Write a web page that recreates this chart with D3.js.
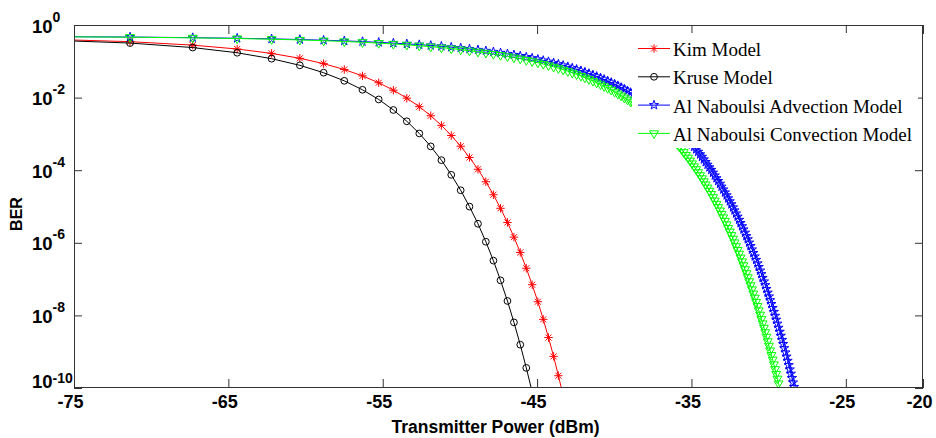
<!DOCTYPE html>
<html>
<head>
<meta charset="utf-8">
<script src="https://cdn.jsdelivr.net/npm/d3@7/dist/d3.min.js"></script>
<style>
    body { margin: 0; background: #fff; }
    .ber-chart svg { display: block; }
    .axis-text { font-family: 'Liberation Sans', Arial, sans-serif; font-weight: bold; fill: #000; }
    .legend-text { font-family: 'Liberation Serif', 'Times New Roman', serif; font-size: 19px; fill: #000; }
</style>
</head>
<body>
<div class="ber-chart"></div>
<script>
// transmitter power grid (dBm), shared by all four curves
const powerDbm = [
    -78.31, -71.37, -67.31, -64.43, -62.20, -60.37, -58.83, -57.49, -56.31, -55.26,
    -54.31, -53.44, -52.63, -51.89, -51.20, -50.56, -49.95, -49.38, -48.83, -48.32,
    -47.83, -47.37, -46.92, -46.50, -46.09, -45.70, -45.32, -44.95, -44.60, -44.26,
    -43.93, -43.62, -43.31, -43.01, -42.72, -42.44, -42.16, -41.90, -41.64, -41.38,
    -41.14, -40.89, -40.66, -40.43, -40.20, -39.98, -39.77, -39.56, -39.35, -39.15,
    -38.95, -38.76, -38.57, -38.38, -38.19, -38.01, -37.84, -37.66, -37.49, -37.32,
    -37.16, -37.00, -36.84, -36.68, -36.52, -36.37, -36.22, -36.07, -35.92, -35.78,
    -35.64, -35.50, -35.36, -35.22, -35.09, -34.96, -34.83, -34.70, -34.57, -34.44,
    -34.32, -34.20, -34.08, -33.96, -33.84, -33.72, -33.60, -33.49, -33.38, -33.27,
    -33.15, -33.05, -32.94, -32.83, -32.72, -32.62, -32.52, -32.41, -32.31, -32.21,
    -32.11, -32.01, -31.91, -31.82, -31.72, -31.63, -31.53, -31.44, -31.35, -31.26,
    -31.17, -31.08, -30.99, -30.90, -30.81, -30.72, -30.64, -30.55, -30.47, -30.39,
    -30.30, -30.22, -30.14, -30.06, -29.98, -29.90, -29.82, -29.74, -29.66, -29.58,
    -29.51, -29.43, -29.36, -29.28, -29.21, -29.13, -29.06, -28.99, -28.91, -28.84,
    -28.77, -28.70, -28.63, -28.56, -28.49, -28.42, -28.35, -28.29, -28.22
];

const kimBer = [
    0.423, 0.348, 0.279, 0.218, 0.165, 0.121, 0.0862, 0.0594, 0.0396, 0.0256,
    0.0160, 9.63e-3, 5.62e-3, 3.16e-3, 1.72e-3, 9.04e-4, 4.58e-4, 2.24e-4, 1.06e-4, 4.81e-5,
    2.11e-5, 8.93e-6, 3.64e-6, 1.43e-6, 5.43e-7, 1.99e-7, 7.0e-8, 2.38e-8, 7.78e-9, 2.45e-9,
    7.45e-10, 2.18e-10, 6.17e-11
];

const kruseBer = [
    0.406, 0.318, 0.239, 0.172, 0.118, 0.0775, 0.0485, 0.0290, 0.0164, 8.89e-3,
    4.56e-3, 2.23e-3, 1.03e-3, 4.53e-4, 1.89e-4, 7.46e-5, 2.80e-5, 9.93e-6, 3.35e-6, 1.07e-6,
    3.23e-7, 9.23e-8, 2.50e-8, 6.43e-9, 1.56e-9, 3.58e-10, 7.82e-11
];

const advectionBer = [
    0.483, 0.466, 0.448, 0.431, 0.415, 0.398, 0.381, 0.365, 0.349, 0.333,
    0.317, 0.302, 0.287, 0.273, 0.259, 0.245, 0.232, 0.218, 0.206, 0.194,
    0.182, 0.171, 0.160, 0.150, 0.140, 0.131, 0.122, 0.113, 0.105, 0.0975,
    0.0903, 0.0835, 0.0769, 0.0709, 0.0653, 0.0600, 0.0550, 0.0503, 0.0460, 0.0420,
    0.0383, 0.0348, 0.0316, 0.0287, 0.0260, 0.0235, 0.0212, 0.0190, 0.0171, 0.0154,
    0.0138, 0.0123, 0.0110, 9.82e-3, 8.75e-3, 7.78e-3, 6.90e-3, 6.10e-3, 5.40e-3, 4.77e-3,
    4.20e-3, 3.70e-3, 3.24e-3, 2.84e-3, 2.49e-3, 2.18e-3, 1.91e-3, 1.65e-3, 1.44e-3, 1.25e-3,
    1.08e-3, 9.35e-4, 8.05e-4, 6.93e-4, 5.97e-4, 5.13e-4, 4.40e-4, 3.76e-4, 3.21e-4, 2.74e-4,
    2.34e-4, 1.98e-4, 1.68e-4, 1.42e-4, 1.20e-4, 1.02e-4, 8.55e-5, 7.16e-5, 6.01e-5, 5.05e-5,
    4.23e-5, 3.53e-5, 2.94e-5, 2.44e-5, 2.03e-5, 1.68e-5, 1.39e-5, 1.15e-5, 9.46e-6, 7.80e-6,
    6.41e-6, 5.26e-6, 4.29e-6, 3.51e-6, 2.86e-6, 2.33e-6, 1.90e-6, 1.53e-6, 1.25e-6, 1.01e-6,
    8.13e-7, 6.55e-7, 5.24e-7, 4.21e-7, 3.38e-7, 2.71e-7, 2.16e-7, 1.72e-7, 1.37e-7, 1.08e-7,
    8.61e-8, 6.81e-8, 5.36e-8, 4.23e-8, 3.33e-8, 2.62e-8, 2.06e-8, 1.60e-8, 1.25e-8, 9.75e-9,
    7.60e-9, 5.93e-9, 4.57e-9, 3.54e-9, 2.74e-9, 2.11e-9, 1.63e-9, 1.25e-9, 9.55e-10, 7.31e-10,
    5.60e-10, 4.28e-10, 3.24e-10, 2.47e-10, 1.88e-10, 1.42e-10, 1.07e-10, 8.07e-11, 6.08e-11
];

const convectionBer = [
    0.481, 0.462, 0.443, 0.425, 0.406, 0.388, 0.370, 0.352, 0.335, 0.317,
    0.301, 0.284, 0.269, 0.253, 0.238, 0.224, 0.210, 0.196, 0.183, 0.171,
    0.159, 0.148, 0.137, 0.127, 0.118, 0.108, 0.0998, 0.0918, 0.0843, 0.0771,
    0.0704, 0.0643, 0.0585, 0.0532, 0.0482, 0.0436, 0.0394, 0.0355, 0.0320, 0.0287,
    0.0257, 0.0230, 0.0205, 0.0183, 0.0163, 0.0144, 0.0128, 0.0113, 9.95e-3, 8.77e-3,
    7.71e-3, 6.75e-3, 5.90e-3, 5.15e-3, 4.49e-3, 3.90e-3, 3.39e-3, 2.93e-3, 2.54e-3, 2.19e-3,
    1.89e-3, 1.62e-3, 1.38e-3, 1.18e-3, 1.01e-3, 8.59e-4, 7.30e-4, 6.18e-4, 5.22e-4, 4.42e-4,
    3.72e-4, 3.13e-4, 2.62e-4, 2.20e-4, 1.83e-4, 1.53e-4, 1.27e-4, 1.06e-4, 8.75e-5, 7.23e-5,
    5.96e-5, 4.91e-5, 4.03e-5, 3.30e-5, 2.70e-5, 2.21e-5, 1.80e-5, 1.45e-5, 1.18e-5, 9.55e-6,
    7.71e-6, 6.21e-6, 4.99e-6, 4.00e-6, 3.20e-6, 2.55e-6, 2.03e-6, 1.62e-6, 1.29e-6, 1.02e-6,
    8.02e-7, 6.31e-7, 4.97e-7, 3.90e-7, 3.06e-7, 2.39e-7, 1.86e-7, 1.45e-7, 1.12e-7, 8.69e-8,
    6.73e-8, 5.19e-8, 3.98e-8, 3.06e-8, 2.34e-8, 1.80e-8, 1.37e-8, 1.04e-8, 7.89e-9, 6.00e-9,
    4.53e-9, 3.42e-9, 2.57e-9, 1.93e-9, 1.45e-9, 1.08e-9, 8.05e-10, 6.00e-10, 4.46e-10, 3.30e-10,
    2.44e-10, 1.80e-10, 1.33e-10, 9.75e-11, 7.15e-11
];

const seriesNames = ['Kim Model', 'Kruse Model', 'Al Naboulsi Advection Model', 'Al Naboulsi Convection Model'];
const xTicks = [-75, -65, -55, -45, -35, -25, -20];
const yTickExponents = [0, -2, -4, -6, -8, -10];
const xDomain = [-75, -20];
const yDomain = [1e-10, 1];

class BerChart {
    constructor() {
        this.container = document.querySelector('.ber-chart');
        this.width = 936;
        this.height = 438;
        this.margin = {
            top: 25,
            right: 13,
            bottom: 50,
            left: 74,
        };
        this.plotWidth = this.width - this.margin.left - this.margin.right;
        this.plotHeight = this.height - this.margin.top - this.margin.bottom;

        this.series = [
            { name: seriesNames[0], values: kimBer, color: '#ff0000', marker: 'asterisk' },
            { name: seriesNames[1], values: kruseBer, color: '#000000', marker: 'circle' },
            { name: seriesNames[2], values: advectionBer, color: '#0000ff', marker: 'star' },
            { name: seriesNames[3], values: convectionBer, color: '#00ff00', marker: 'triangle' },
        ];

        this.drawChart();
    }

    drawChart() {
        this.appendSVG();
        this.scaleX();
        this.scaleY();
        this.addClip();
        this.series.forEach((s) => this.addSeries(s));
        this.addLegend();
        this.addAxes();
        this.addAxisLabels();
    }

    appendSVG() {
        this.root = d3.select(this.container)
            .append('svg')
            .attr('width', this.width)
            .attr('height', this.height);
        this.svg = this.root.append('g')
            .attr('transform', `translate(${this.margin.left}, ${this.margin.top})`);
    }

    scaleX() {
        this.x = d3.scaleLinear()
            .domain(xDomain)
            .range([0, this.plotWidth]);
    }

    scaleY() {
        this.y = d3.scaleLog()
            .domain(yDomain)
            .range([this.plotHeight, 0]);
    }

    addClip() {
        this.svg.append('clipPath')
            .attr('id', 'plot-clip')
            .append('rect')
            .attr('width', this.plotWidth)
            .attr('height', this.plotHeight);
        this.plot = this.svg.append('g').attr('clip-path', 'url(#plot-clip)');
    }

    markerPath(type) {
        if (type === 'asterisk') {
            const r = 4.2;
            const d = 3;
            return `M${-r},0L${r},0M0,${-r}L0,${r}M${-d},${-d}L${d},${d}M${-d},${d}L${d},${-d}`;
        }
        if (type === 'circle') return d3.symbol().type(d3.symbolCircle).size(36)();
        if (type === 'star') return d3.symbol().type(d3.symbolStar).size(26)();
        return d3.symbol().type(d3.symbolTriangle).size(34)();
    }

    markerTransform(type, px, py) {
        return type === 'triangle' ? `translate(${px},${py}) rotate(180)` : `translate(${px},${py})`;
    }

    addSeries(s) {
        const data = s.values.map((v, i) => ({ x: powerDbm[i], y: v }));
        const line = d3.line()
            .x((d) => this.x(d.x))
            .y((d) => this.y(d.y));

        const g = this.plot.append('g').attr('class', `series series-${s.marker}`);
        g.append('path')
            .datum(data)
            .attr('d', line)
            .style('fill', 'none')
            .style('stroke', s.color)
            .style('stroke-width', 1);

        const path = this.markerPath(s.marker);
        g.selectAll('.marker')
            .data(data.filter((d) => d.x >= xDomain[0] && d.y >= yDomain[0]))
            .enter()
            .append('path')
            .attr('class', 'marker')
            .attr('d', path)
            .attr('transform', (d) => this.markerTransform(s.marker, this.x(d.x), this.y(d.y)))
            .style('fill', 'none')
            .style('stroke', s.color)
            .style('stroke-width', 1);
    }

    addLegend() {
        const legend = this.root.append('g').attr('class', 'legend');
        legend.append('rect')
            .attr('x', 632)
            .attr('y', 33)
            .attr('width', 286)
            .attr('height', 115)
            .style('fill', '#fff');

        this.series.forEach((s, i) => {
            const ly = 48.5 + i * 28.3;
            legend.append('line')
                .attr('x1', 638)
                .attr('x2', 670)
                .attr('y1', ly)
                .attr('y2', ly)
                .style('stroke', s.color)
                .style('stroke-width', 1);
            legend.append('path')
                .attr('d', this.markerPath(s.marker))
                .attr('transform', this.markerTransform(s.marker, 654, ly))
                .style('fill', 'none')
                .style('stroke', s.color);
            legend.append('text')
                .attr('class', 'legend-text')
                .attr('x', 673)
                .attr('y', ly + 7.5)
                .text(s.name);
        });
    }

    addAxes() {
        const axisColor = '#333';
        const yTicks = yTickExponents.map((e) => Math.pow(10, e));

        this.svg.append('rect')
            .attr('x', 0.5)
            .attr('y', 0.5)
            .attr('width', this.plotWidth - 1)
            .attr('height', this.plotHeight - 1)
            .style('fill', 'none')
            .style('stroke', axisColor);

        const bottom = this.svg.append('g')
            .attr('class', 'x-axis')
            .attr('transform', `translate(0,${this.plotHeight})`)
            .call(d3.axisBottom(this.x).tickValues(xTicks).tickSize(-9).tickSizeOuter(0));
        bottom.selectAll('text')
            .attr('class', 'axis-text')
            .attr('y', 19.5)
            .attr('dy', 0)
            .attr('dx', -4)
            .style('font-size', '18px')
            .text((d) => d);

        this.svg.append('g')
            .attr('class', 'x-axis-top')
            .call(d3.axisTop(this.x).tickValues(xTicks).tickSize(-9).tickSizeOuter(0).tickFormat(''));

        const left = this.svg.append('g')
            .attr('class', 'y-axis')
            .call(d3.axisLeft(this.y).tickValues(yTicks).tickSize(-8).tickSizeOuter(0).tickFormat(''));
        left.selectAll('.tick').each(function (d, i) {
            const last = i === yTicks.length - 1;
            const label = d3.select(this).append('text')
                .attr('class', 'axis-text')
                .attr('x', -42)
                .attr('y', last ? -1 : 7)
                .attr('text-anchor', 'start')
                .style('font-size', '18.5px');
            label.append('tspan').text('10');
            label.append('tspan')
                .attr('dy', last ? -5 : -11)
                .style('font-size', '14px')
                .text(yTickExponents[i]);
        });

        this.svg.append('g')
            .attr('class', 'y-axis-right')
            .attr('transform', `translate(${this.plotWidth},0)`)
            .call(d3.axisRight(this.y).tickValues(yTicks).tickSize(-8).tickSizeOuter(0).tickFormat(''));

        this.svg.selectAll('.domain').remove();
        this.svg.selectAll('.tick line').style('stroke', axisColor);
    }

    addAxisLabels() {
        this.root.append('text')
            .attr('class', 'axis-text')
            .attr('x', this.margin.left + this.plotWidth / 2 - 3)
            .attr('y', 433)
            .attr('text-anchor', 'middle')
            .style('font-size', '17.5px')
            .text('Transmitter Power (dBm)');

        this.root.append('text')
            .attr('class', 'axis-text')
            .attr('transform', 'translate(22, 214) rotate(-90)')
            .attr('text-anchor', 'middle')
            .style('font-size', '16px')
            .text('BER');
    }
}

new BerChart();
</script>
</body>
</html>
